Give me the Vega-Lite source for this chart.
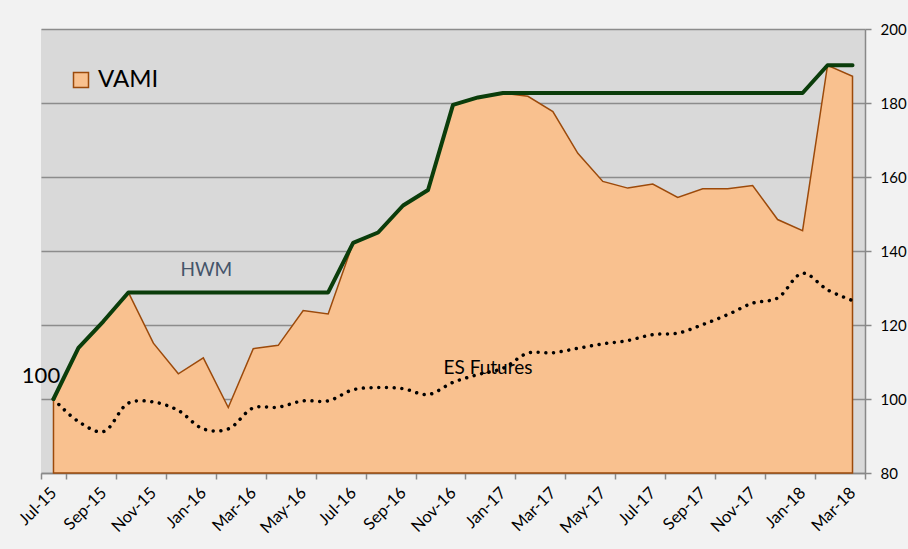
{
  "$schema": "https://vega.github.io/schema/vega-lite/v6.json",
  "width": 824,
  "height": 444,
  "autosize": {"type": "none"},
  "padding": {"left": 41, "top": 29, "right": 43, "bottom": 76},
  "background": "#f2f2f2",
  "config": {
    "view": {"fill": "#d9d9d9", "stroke": null},
    "font": "Lato",
    "axis": {"labelFont": "Lato", "titleFont": "Lato"}
  },
  "datasets": {
    "series": [
      {"month": "Jul-15", "vami": 100, "hwm": 100, "es": 100},
      {"month": "Aug-15", "vami": 113.8, "hwm": 113.8, "es": 93.9},
      {"month": "Sep-15", "vami": 121.0, "hwm": 121.0, "es": 91.2},
      {"month": "Oct-15", "vami": 128.8, "hwm": 128.8, "es": 98.9},
      {"month": "Nov-15", "vami": 115.1, "hwm": 128.8, "es": 99.2},
      {"month": "Dec-15", "vami": 106.8, "hwm": 128.8, "es": 96.9},
      {"month": "Jan-16", "vami": 111.1, "hwm": 128.8, "es": 91.9},
      {"month": "Feb-16", "vami": 97.7, "hwm": 128.8, "es": 91.9},
      {"month": "Mar-16", "vami": 113.6, "hwm": 128.8, "es": 97.6},
      {"month": "Apr-16", "vami": 114.5, "hwm": 128.8, "es": 97.8},
      {"month": "May-16", "vami": 123.9, "hwm": 128.8, "es": 99.5},
      {"month": "Jun-16", "vami": 123.0, "hwm": 128.8, "es": 99.5},
      {"month": "Jul-16", "vami": 142.2, "hwm": 142.2, "es": 102.5},
      {"month": "Aug-16", "vami": 145.0, "hwm": 145.0, "es": 103.1},
      {"month": "Sep-16", "vami": 152.3, "hwm": 152.3, "es": 102.8},
      {"month": "Oct-16", "vami": 156.5, "hwm": 156.5, "es": 101.2},
      {"month": "Nov-16", "vami": 179.5, "hwm": 179.5, "es": 104.5},
      {"month": "Dec-16", "vami": 181.5, "hwm": 181.5, "es": 106.6},
      {"month": "Jan-17", "vami": 182.7, "hwm": 182.7, "es": 108.3},
      {"month": "Feb-17", "vami": 181.8, "hwm": 182.7, "es": 112.4},
      {"month": "Mar-17", "vami": 177.7, "hwm": 182.7, "es": 112.5},
      {"month": "Apr-17", "vami": 166.4, "hwm": 182.7, "es": 113.7},
      {"month": "May-17", "vami": 158.8, "hwm": 182.7, "es": 114.9},
      {"month": "Jun-17", "vami": 157.0, "hwm": 182.7, "es": 115.8},
      {"month": "Jul-17", "vami": 158.1, "hwm": 182.7, "es": 117.4},
      {"month": "Aug-17", "vami": 154.5, "hwm": 182.7, "es": 117.8},
      {"month": "Sep-17", "vami": 156.8, "hwm": 182.7, "es": 120.1},
      {"month": "Oct-17", "vami": 156.8, "hwm": 182.7, "es": 122.8},
      {"month": "Nov-17", "vami": 157.7, "hwm": 182.7, "es": 125.9},
      {"month": "Dec-17", "vami": 148.5, "hwm": 182.7, "es": 127.3},
      {"month": "Jan-18", "vami": 145.5, "hwm": 182.7, "es": 134.0},
      {"month": "Feb-18", "vami": 190.2, "hwm": 190.2, "es": 129.5},
      {"month": "Mar-18", "vami": 187.2, "hwm": 190.2, "es": 126.6}
    ]
  },
  "data": {"name": "series"},
  "encoding": {
    "x": {
      "field": "month",
      "type": "ordinal",
      "sort": null,
      "bandPosition": 0.5,
      "scale": {"type": "band", "paddingInner": 0, "paddingOuter": 0},
      "axis": {
        "title": null,
        "values": ["Jul-15", "Sep-15", "Nov-15", "Jan-16", "Mar-16", "May-16", "Jul-16", "Sep-16", "Nov-16", "Jan-17", "Mar-17", "May-17", "Jul-17", "Sep-17", "Nov-17", "Jan-18", "Mar-18"],
        "tickBand": "extent",
        "grid": false,
        "labelAngle": -45,
        "labelAlign": "right",
        "labelBaseline": "middle",
        "labelFontSize": 16.5,
        "labelColor": "#000000",
        "labelPadding": 11,
        "tickSize": 6,
        "tickColor": "#888888",
        "tickWidth": 1.5,
        "domainColor": "#888888",
        "domainWidth": 1.5
      }
    }
  },
  "layer": [
    {
      "mark": {"type": "area", "stroke": "#9c4a0b", "strokeWidth": 1.5, "fillOpacity": 1},
      "encoding": {
        "y": {
          "field": "vami",
          "type": "quantitative",
          "scale": {"domain": [80, 200], "nice": false, "zero": false},
          "axis": {
            "orient": "right",
            "title": null,
            "values": [80, 100, 120, 140, 160, 180, 200],
            "grid": true,
            "gridColor": "#8c8c8c",
            "gridWidth": 1.5,
            "labelFontSize": 15,
            "labelColor": "#000000",
            "labelPadding": 9,
            "tickSize": 6,
            "tickColor": "#888888",
            "tickWidth": 1.5,
            "domainColor": "#888888",
            "domainWidth": 1.5
          }
        },
        "y2": {"datum": 80},
        "color": {
          "datum": "VAMI",
          "scale": {"domain": ["VAMI"], "range": ["#f9c18f"]},
          "legend": {
            "title": null,
            "orient": "none",
            "legendX": 28,
            "legendY": 39,
            "symbolType": "square",
            "symbolSize": 225,
            "symbolStrokeColor": "#9c4a0b",
            "symbolStrokeWidth": 1.5,
            "labelFontSize": 24,
            "labelColor": "#000000",
            "labelOffset": 5
          }
        }
      }
    },
    {
      "mark": {"type": "line", "color": "#000000", "strokeWidth": 3.5, "strokeCap": "round", "strokeDash": [0.01, 7.7], "interpolate": "catmull-rom"},
      "encoding": {"y": {"field": "es", "type": "quantitative"}}
    },
    {
      "mark": {"type": "line", "color": "#0b3d0b", "strokeWidth": 4, "strokeJoin": "round", "strokeCap": "round"},
      "encoding": {"y": {"field": "hwm", "type": "quantitative"}}
    },
    {
      "data": {"values": [{"month": "Jul-15", "v": 106.3, "label": "100"}]},
      "mark": {"type": "text", "fontSize": 22, "align": "center", "baseline": "middle", "color": "#000000", "font": "Lato"},
      "encoding": {"x": {"field": "month", "type": "ordinal", "bandPosition": 0}, "y": {"field": "v", "type": "quantitative"}, "text": {"field": "label"}}
    },
    {
      "data": {"values": [{"month": "Jan-16", "v": 134.9, "label": "HWM"}]},
      "mark": {"type": "text", "fontSize": 19, "align": "center", "baseline": "middle", "color": "#44546a", "dx": 3, "font": "Lato"},
      "encoding": {"y": {"field": "v", "type": "quantitative"}, "text": {"field": "label"}}
    },
    {
      "data": {"values": [{"month": "Dec-16", "v": 108.5, "label": "ES Futures"}]},
      "mark": {"type": "text", "fontSize": 19, "align": "center", "baseline": "middle", "color": "#000000", "dx": 10, "font": "Lato"},
      "encoding": {"y": {"field": "v", "type": "quantitative"}, "text": {"field": "label"}}
    }
  ]
}
